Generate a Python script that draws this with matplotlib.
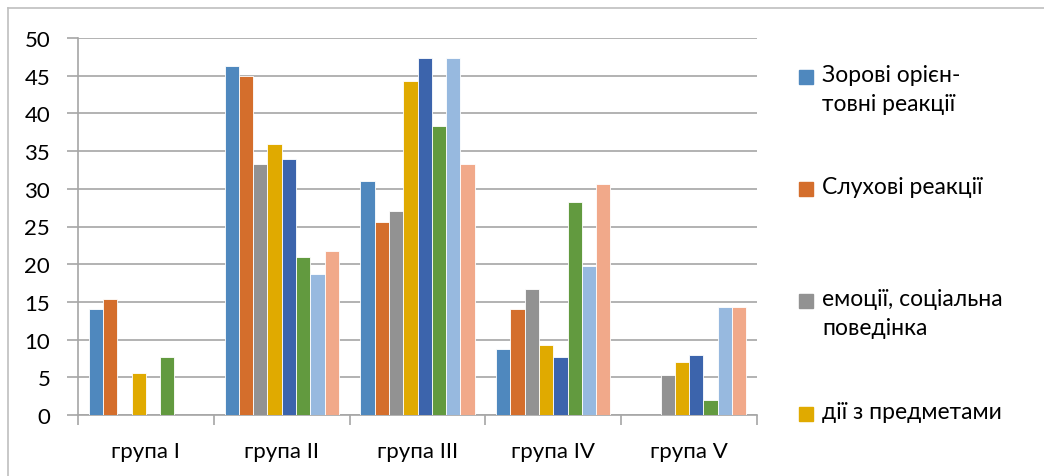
import numpy as np
import matplotlib
matplotlib.use("Agg")
import matplotlib.pyplot as plt
from matplotlib.lines import Line2D
from matplotlib.patches import Rectangle

plt.rcParams["font.family"] = ["Lato", "DejaVu Sans"]

groups = ["група I", "група II", "група III", "група IV", "група V"]
series_names = [
    "Зорові орієн-\nтовні реакції",
    "Слухові реакції",
    "емоції, соціальна\nповедінка",
    "дії з предметами",
    None, None, None, None,
]
values = [
    [14.0, 46.3, 31.0, 8.7, 0.0],
    [15.4, 45.0, 25.6, 14.0, 0.0],
    [0.0, 33.3, 27.0, 16.7, 5.3],
    [5.6, 36.0, 44.3, 9.3, 7.0],
    [0.0, 34.0, 47.3, 7.7, 8.0],
    [7.7, 21.0, 38.3, 28.3, 2.0],
    [0.0, 18.7, 47.3, 19.7, 14.3],
    [0.0, 21.7, 33.3, 30.7, 14.3],
]
colors = ["#4F88BE", "#D46E2C", "#929292", "#E0AA00",
          "#3C64AC", "#629A3F", "#97B9DF", "#F1A98A"]
y_ticks = [0, 5, 10, 15, 20, 25, 30, 35, 40, 45, 50]

W, H = 1044, 477
fig = plt.figure(figsize=(W / 100, H / 100), dpi=100)
ax = fig.add_axes([78 / W, 1 - 416 / H, (757 - 78) / W, (416 - 39) / H])

n = len(values)
bw = 1 / (n + 1.5)
x = np.arange(len(groups))
for i, (vals, c) in enumerate(zip(values, colors)):
    ax.bar(x + (i - (n - 1) / 2) * bw, vals, width=bw, color=c,
           edgecolor="white", linewidth=0.6, zorder=3)

ax.set_xlim(-0.5, len(groups) - 0.5)
ax.set_ylim(0, 50)
ax.set_yticks(y_ticks)
ax.yaxis.grid(True, color="#A6A6A6", linewidth=1.2, zorder=0)
ax.set_xticks(x)
ax.set_xticklabels(groups, fontsize=16)
ax.tick_params(axis="x", length=0, pad=19)
ax.set_xticks(np.arange(len(groups) + 1) - 0.5, minor=True)
ax.tick_params(axis="x", which="minor", length=7, color="#A6A6A6", width=1.2)
ax.tick_params(axis="y", length=8, color="#A6A6A6", width=1.2,
               labelsize=16, pad=12)
for s in ["top", "right"]:
    ax.spines[s].set_visible(False)
for s in ["left", "bottom"]:
    ax.spines[s].set_color("#A6A6A6")
    ax.spines[s].set_linewidth(1.2)

# chart frame
fig.add_artist(Line2D([8 / W, 8 / W], [0, 1 - 9 / H], color="#BFBFBF",
                      linewidth=1.2, transform=fig.transFigure))
fig.add_artist(Line2D([8 / W, 1], [1 - 9 / H, 1 - 9 / H], color="#BFBFBF",
                      linewidth=1.2, transform=fig.transFigure))

# legend (only four entries visible)
legend_y = [78, 190, 302, 415]
for name, c, yy in zip(series_names, colors, legend_y):
    if name is None:
        continue
    fig.add_artist(Rectangle((799 / W, 1 - (yy + 7) / H), 14 / W, 14 / H,
                             color=c, transform=fig.transFigure))
    fig.text(822 / W, 1 - (yy - 13) / H, name, fontsize=16.5, va="top",
             ha="left", linespacing=1.45, transform=fig.transFigure)

fig.savefig("out.png", dpi=100)
